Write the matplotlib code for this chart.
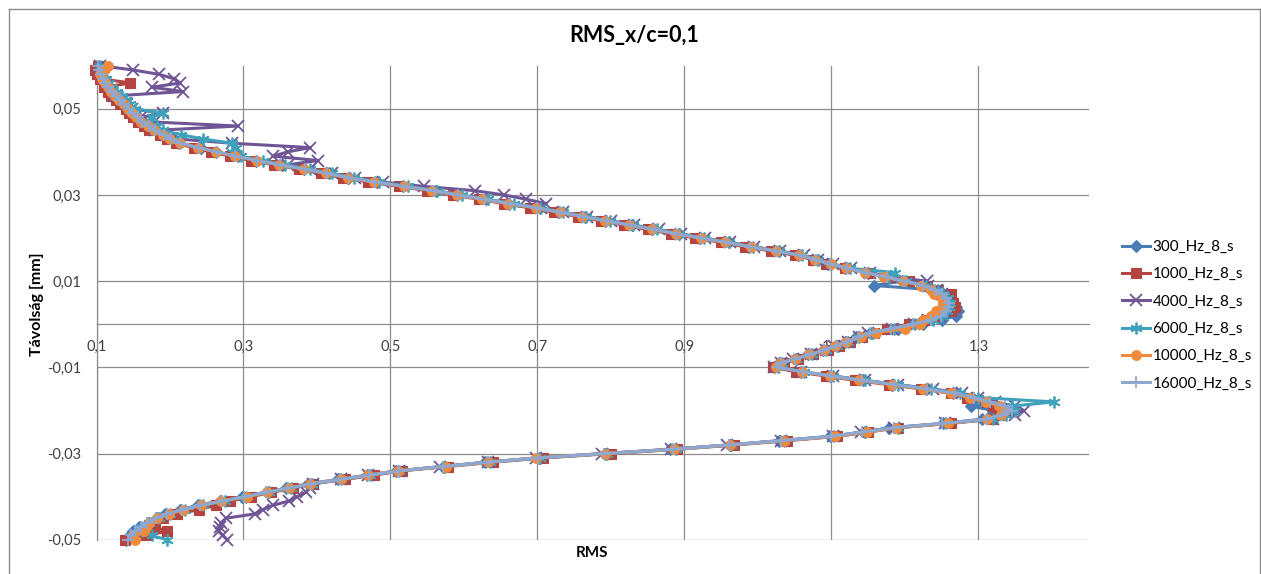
import matplotlib
matplotlib.use("Agg")
import matplotlib.pyplot as plt
from matplotlib.ticker import FuncFormatter
from matplotlib.lines import Line2D

plt.rcParams["font.family"] = ["Lato", "DejaVu Sans"]

# Measurement positions across the traverse [mm]
depth_mm = [
    -0.050, -0.049, -0.048, -0.047, -0.046, -0.045, -0.044, -0.043, -0.042, -0.041,
    -0.040, -0.039, -0.038, -0.037, -0.036, -0.035, -0.034, -0.033, -0.032, -0.031,
    -0.030, -0.029, -0.028, -0.027, -0.026, -0.025, -0.024, -0.023, -0.022, -0.021,
    -0.020, -0.019, -0.018, -0.017, -0.016, -0.015, -0.014, -0.013, -0.012, -0.011,
    -0.010, -0.009, -0.008, -0.007, -0.006, -0.005, -0.004, -0.003, -0.002, -0.001,
    0.000, 0.001, 0.002, 0.003, 0.004, 0.005, 0.006, 0.007, 0.008, 0.009,
    0.010, 0.011, 0.012, 0.013, 0.014, 0.015, 0.016, 0.017, 0.018, 0.019,
    0.020, 0.021, 0.022, 0.023, 0.024, 0.025, 0.026, 0.027, 0.028, 0.029,
    0.030, 0.031, 0.032, 0.033, 0.034, 0.035, 0.036, 0.037, 0.038, 0.039,
    0.040, 0.041, 0.042, 0.043, 0.044, 0.045, 0.046, 0.047, 0.048, 0.049,
    0.050, 0.051, 0.052, 0.053, 0.054, 0.055, 0.056, 0.057, 0.058, 0.059, 0.060,
]

# RMS values for each sampling rate
rms_300 = [
    0.140, 0.146, 0.150, 0.158, 0.170, 0.182, 0.193, 0.213, 0.238, 0.268,
    0.298, 0.333, 0.358, 0.388, 0.428, 0.468, 0.508, 0.572, 0.628, 0.702,
    0.792, 0.880, 0.962, 1.028, 1.098, 1.145, 1.178, 1.252, 1.305, 1.318,
    1.320, 1.290, 1.300, 1.290, 1.265, 1.228, 1.183, 1.143, 1.098, 1.058,
    1.022, 1.028, 1.052, 1.068, 1.088, 1.108, 1.118, 1.133, 1.153, 1.190,
    1.225, 1.250, 1.270, 1.272, 1.270, 1.266, 1.262, 1.252, 1.240, 1.158,
    1.196, 1.172, 1.150, 1.118, 1.095, 1.082, 1.055, 1.028, 0.988, 0.960,
    0.921, 0.892, 0.856, 0.829, 0.792, 0.765, 0.729, 0.703, 0.661, 0.630,
    0.590, 0.562, 0.517, 0.482, 0.442, 0.417, 0.382, 0.352, 0.317, 0.292,
    0.262, 0.242, 0.212, 0.205, 0.190, 0.182, 0.170, 0.165, 0.155, 0.152,
    0.143, 0.140, 0.131, 0.128, 0.120, 0.118, 0.111, 0.110, 0.105, 0.104, 0.101,
]
rms_1000 = [
    0.139, 0.168, 0.196, 0.178, 0.180, 0.190, 0.210, 0.240, 0.262, 0.282,
    0.310, 0.338, 0.368, 0.395, 0.438, 0.478, 0.515, 0.578, 0.640, 0.708,
    0.800, 0.890, 0.968, 1.040, 1.108, 1.150, 1.190, 1.262, 1.318, 1.328,
    1.325, 1.320, 1.312, 1.285, 1.262, 1.222, 1.178, 1.132, 1.092, 1.052,
    1.020, 1.035, 1.055, 1.075, 1.095, 1.110, 1.125, 1.142, 1.158, 1.175,
    1.205, 1.228, 1.245, 1.262, 1.268, 1.265, 1.262, 1.262, 1.245, 1.230,
    1.205, 1.178, 1.150, 1.118, 1.092, 1.075, 1.050, 1.018, 0.982, 0.950,
    0.915, 0.882, 0.850, 0.818, 0.786, 0.755, 0.722, 0.690, 0.655, 0.620,
    0.585, 0.550, 0.512, 0.470, 0.436, 0.405, 0.376, 0.342, 0.310, 0.282,
    0.256, 0.232, 0.208, 0.196, 0.186, 0.172, 0.164, 0.156, 0.150, 0.144,
    0.140, 0.132, 0.126, 0.120, 0.116, 0.110, 0.146, 0.105, 0.100, 0.098, 0.102,
]
rms_4000 = [
    0.278, 0.272, 0.266, 0.268, 0.270, 0.276, 0.315, 0.326, 0.340, 0.362,
    0.373, 0.385, 0.390, 0.395, 0.432, 0.470, 0.512, 0.568, 0.632, 0.698,
    0.788, 0.882, 0.958, 1.032, 1.102, 1.140, 1.185, 1.255, 1.320, 1.350,
    1.362, 1.350, 1.322, 1.300, 1.278, 1.238, 1.190, 1.145, 1.102, 1.058,
    1.022, 1.032, 1.048, 1.072, 1.092, 1.104, 1.122, 1.138, 1.150, 1.182,
    1.212, 1.232, 1.246, 1.254, 1.256, 1.258, 1.255, 1.250, 1.244, 1.232,
    1.230, 1.180, 1.152, 1.126, 1.102, 1.082, 1.062, 1.030, 0.995, 0.962,
    0.928, 0.895, 0.865, 0.832, 0.800, 0.768, 0.735, 0.705, 0.712, 0.685,
    0.655, 0.615, 0.545, 0.490, 0.452, 0.420, 0.390, 0.360, 0.402, 0.340,
    0.360, 0.391, 0.285, 0.210, 0.195, 0.180, 0.293, 0.170, 0.160, 0.190,
    0.148, 0.142, 0.135, 0.125, 0.218, 0.175, 0.214, 0.205, 0.185, 0.150, 0.105,
]
rms_6000 = [
    0.196, 0.175, 0.162, 0.160, 0.172, 0.185, 0.200, 0.220, 0.245, 0.275,
    0.303, 0.335, 0.365, 0.393, 0.433, 0.472, 0.512, 0.574, 0.636, 0.703,
    0.795, 0.888, 0.963, 1.035, 1.103, 1.146, 1.190, 1.256, 1.320, 1.338,
    1.350, 1.345, 1.403, 1.300, 1.275, 1.235, 1.190, 1.145, 1.102, 1.062,
    1.027, 1.033, 1.052, 1.073, 1.092, 1.108, 1.122, 1.138, 1.155, 1.185,
    1.214, 1.238, 1.250, 1.257, 1.260, 1.261, 1.258, 1.252, 1.245, 1.228,
    1.202, 1.178, 1.187, 1.125, 1.100, 1.082, 1.060, 1.028, 0.993, 0.960,
    0.926, 0.893, 0.862, 0.830, 0.798, 0.766, 0.735, 0.703, 0.668, 0.632,
    0.597, 0.563, 0.524, 0.484, 0.450, 0.420, 0.390, 0.356, 0.326, 0.296,
    0.285, 0.290, 0.285, 0.245, 0.215, 0.190, 0.182, 0.172, 0.175, 0.190,
    0.152, 0.145, 0.140, 0.135, 0.128, 0.120, 0.117, 0.113, 0.110, 0.107, 0.105,
]
rms_10000 = [
    0.152, 0.150, 0.165, 0.168, 0.172, 0.182, 0.198, 0.218, 0.242, 0.270,
    0.305, 0.332, 0.362, 0.390, 0.432, 0.470, 0.510, 0.575, 0.633, 0.698,
    0.792, 0.886, 0.962, 1.035, 1.105, 1.148, 1.188, 1.258, 1.312, 1.330,
    1.335, 1.328, 1.310, 1.288, 1.262, 1.225, 1.182, 1.138, 1.098, 1.060,
    1.025, 1.030, 1.050, 1.070, 1.090, 1.105, 1.120, 1.140, 1.160, 1.200,
    1.220, 1.225, 1.235, 1.242, 1.250, 1.252, 1.250, 1.240, 1.235, 1.222,
    1.198, 1.172, 1.146, 1.120, 1.100, 1.078, 1.056, 1.025, 0.990, 0.955,
    0.922, 0.888, 0.856, 0.825, 0.792, 0.760, 0.730, 0.698, 0.660, 0.625,
    0.590, 0.557, 0.518, 0.478, 0.442, 0.412, 0.382, 0.348, 0.318, 0.288,
    0.262, 0.238, 0.214, 0.200, 0.190, 0.178, 0.170, 0.160, 0.154, 0.148,
    0.143, 0.137, 0.131, 0.125, 0.120, 0.115, 0.112, 0.108, 0.105, 0.110, 0.115,
]
rms_16000 = [
    0.143, 0.147, 0.153, 0.160, 0.169, 0.181, 0.196, 0.216, 0.241, 0.271,
    0.301, 0.331, 0.361, 0.392, 0.431, 0.471, 0.512, 0.571, 0.632, 0.701,
    0.790, 0.884, 0.960, 1.031, 1.100, 1.142, 1.185, 1.250, 1.312, 1.332,
    1.345, 1.336, 1.316, 1.294, 1.268, 1.230, 1.186, 1.141, 1.100, 1.061,
    1.026, 1.031, 1.050, 1.071, 1.090, 1.106, 1.121, 1.136, 1.152, 1.181,
    1.211, 1.236, 1.249, 1.256, 1.259, 1.260, 1.256, 1.250, 1.241, 1.224,
    1.199, 1.175, 1.147, 1.121, 1.098, 1.079, 1.057, 1.024, 0.989, 0.957,
    0.923, 0.889, 0.858, 0.826, 0.794, 0.762, 0.731, 0.699, 0.663, 0.627,
    0.592, 0.559, 0.519, 0.479, 0.444, 0.414, 0.384, 0.349, 0.319, 0.289,
    0.264, 0.239, 0.214, 0.202, 0.192, 0.179, 0.171, 0.162, 0.156, 0.149,
    0.144, 0.138, 0.132, 0.126, 0.121, 0.116, 0.112, 0.109, 0.106, 0.104, 0.102,
]

series_names = ["300_Hz_8_s", "1000_Hz_8_s", "4000_Hz_8_s",
                "6000_Hz_8_s", "10000_Hz_8_s", "16000_Hz_8_s"]
series_values = [rms_300, rms_1000, rms_4000, rms_6000, rms_10000, rms_16000]
series_colors = ["#4A7DB5", "#B5433F", "#6F5596", "#3FA2BC", "#EF8B3A", "#8EA8D2"]
series_markers = ["D", "s", "x", (6, 2, 0), "o", "+"]
series_msize = [6.0, 7.0, 8.0, 8.5, 7.0, 9.0]

x_ticks = [0.1, 0.3, 0.5, 0.7, 0.9, 1.1, 1.3]
y_ticks = [-0.05, -0.03, -0.01, 0.01, 0.03, 0.05]

W, H = 1261, 574
fig = plt.figure(figsize=(W / 100, H / 100), dpi=100)
ax = fig.add_axes([96.5 / W, 34.2 / H, 992.2 / W, 474.1 / H])

grid_c = "#8C8C8C"
for name, vals, col, mk, ms in zip(series_names, series_values, series_colors,
                                   series_markers, series_msize):
    filled = mk in ("D", "s", "o")
    ax.plot(vals, depth_mm, color=col, lw=2.2, marker=mk, ms=ms,
            mfc=col if filled else "none", mec=col,
            mew=1.3 if not filled else 0.8, label=name, clip_on=False, zorder=3)

ax.set_xlim(0.1, 1.45)
ax.set_ylim(-0.05, 0.06)
ax.set_xticks(x_ticks)
ax.set_yticks(y_ticks)
ax.set_axisbelow(True)
ax.grid(True, color=grid_c, lw=0.9)

ax.xaxis.set_major_formatter(FuncFormatter(lambda v, p: f"{v:g}".replace(".", ",")))
ax.yaxis.set_major_formatter(FuncFormatter(lambda v, p: f"{v:.2f}".replace(".", ",")))

for side in ("top", "right"):
    ax.spines[side].set_visible(False)
ax.spines["bottom"].set_position(("data", 0))
ax.spines["bottom"].set_color(grid_c)
ax.spines["bottom"].set_linewidth(0.9)
ax.spines["left"].set_color(grid_c)
ax.spines["left"].set_linewidth(0.9)

ax.tick_params(axis="x", length=0, pad=11, labelsize=10.5, labelcolor="#404040")
ax.tick_params(axis="y", length=0, pad=11, labelsize=10.5, labelcolor="#404040")

fig.text(634.5 / W, 1 - 35 / H, "RMS_x/c=0,1", ha="center", va="center",
         fontsize=15.5, fontweight="bold")
fig.text(37 / W, 1 - 304 / H, "Távolság [mm]", ha="center", va="center",
         rotation=90, fontsize=11.5, fontweight="bold")
fig.text(592 / W, 1 - 553 / H, "RMS", ha="center", va="center",
         fontsize=11, fontweight="bold")

fig.legend(loc="upper left", bbox_to_anchor=(1122 / W, 1 - 240 / H),
           frameon=False, fontsize=11, handlelength=1.8, handletextpad=0.2,
           labelspacing=0.87, borderpad=0, borderaxespad=0, numpoints=1)

# outer chart border
border_c = "#8A8A8A"
fig.add_artist(Line2D([8.5 / W, 8.5 / W], [0, 1 - 8.5 / H], color=border_c, lw=1))
fig.add_artist(Line2D([8.5 / W, 1259.5 / W], [1 - 8.5 / H, 1 - 8.5 / H], color=border_c, lw=1))
fig.add_artist(Line2D([1259.5 / W, 1259.5 / W], [0, 1 - 8.5 / H], color=border_c, lw=1))

fig.savefig("out.png", dpi=100, facecolor="white")
